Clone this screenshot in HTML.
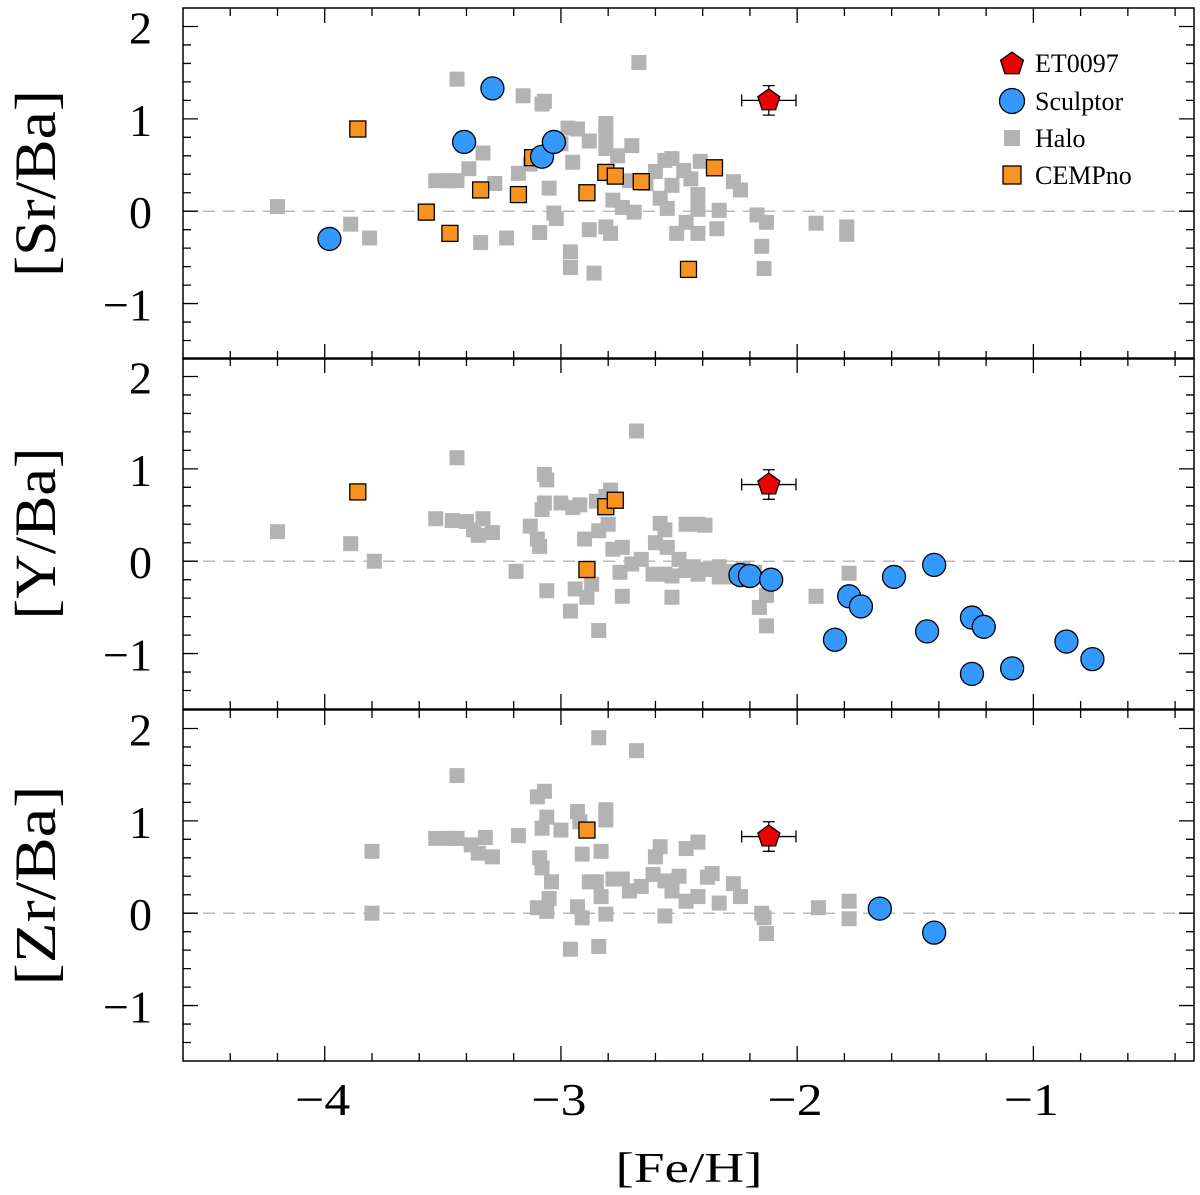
<!DOCTYPE html>
<html><head><meta charset="utf-8">
<style>
html,body{margin:0;padding:0;background:#fff;}
svg text{font-family:"Liberation Serif",serif;fill:#000;}
</style></head>
<body>
<svg id="chart" width="1200" height="1190" xmlns="http://www.w3.org/2000/svg"></svg>
<script>
// ---- data ----
const xTicks = [-4, -3, -2, -1];
const xTickLabels = ["\u22124", "\u22123", "\u22122", "\u22121"];
const yTicks = [2, 1, 0, -1];
const yTickLabels = ["2", "1", "0", "\u22121"];
const panelTitles = ["[Sr/Ba]", "[Y/Ba]", "[Zr/Ba]"];

const haloSrX = [-4.20,-3.89,-3.81,-3.44,-3.53,-3.48,-3.44,-3.39,-3.33,-3.34,-3.28,-3.23,-3.16,-3.08,-3.07,-3.13,-3.18,-3.09,-3.03,-3.02,-3.05,-2.97,-2.93,-3.00,-2.95,-2.88,-2.96,-2.96,-2.88,-2.86,-2.81,-2.81,-2.81,-2.76,-2.70,-2.78,-2.74,-2.81,-2.79,-2.69,-2.67,-2.71,-2.64,-2.58,-2.60,-2.56,-2.53,-2.55,-2.48,-2.45,-2.51,-2.47,-2.42,-2.42,-2.42,-2.41,-2.33,-2.34,-2.27,-2.24,-2.17,-2.13,-2.15,-2.14,-1.92,-1.79,-1.79,-2.53];
const haloSrY = [0.05,-0.14,-0.29,1.43,0.33,0.33,0.33,0.46,0.63,-0.34,0.30,-0.29,1.25,1.16,1.19,0.51,0.41,-0.23,-0.02,-0.08,0.25,0.90,0.89,0.73,0.53,0.76,-0.44,-0.61,-0.20,-0.67,0.95,0.84,0.68,0.60,0.71,0.12,0.04,-0.17,-0.24,-0.01,1.61,0.33,0.30,0.14,0.43,0.55,0.57,0.03,0.44,0.35,-0.24,-0.12,0.18,0.02,-0.24,0.54,0.01,-0.19,0.32,0.23,-0.04,-0.12,-0.38,-0.62,-0.13,-0.17,-0.25,0.28];
const cempSrX = [-3.86,-3.57,-3.47,-3.34,-3.18,-3.12,-2.89,-2.81,-2.77,-2.66,-2.46,-2.35];
const cempSrY = [0.89,-0.01,-0.24,0.23,0.18,0.58,0.20,0.42,0.38,0.32,-0.63,0.47];
const sclSrX = [-3.98,-3.29,-3.41,-3.08,-3.03];
const sclSrY = [-0.30,1.33,0.75,0.59,0.75];
const etSr = [-2.12, 1.20];

const haloYX = [-4.20,-3.89,-3.79,-3.44,-3.53,-3.46,-3.40,-3.37,-3.35,-3.33,-3.29,-3.19,-3.13,-3.09,-3.10,-3.07,-3.06,-3.06,-3.08,-3.07,-3.00,-2.95,-2.92,-2.96,-2.94,-2.90,-2.89,-2.87,-2.84,-2.80,-2.84,-2.81,-2.79,-2.85,-2.78,-2.74,-2.74,-2.75,-2.70,-2.68,-2.66,-2.61,-2.60,-2.58,-2.56,-2.55,-2.56,-2.53,-2.53,-2.50,-2.47,-2.44,-2.42,-2.39,-2.47,-2.42,-2.39,-2.33,-2.33,-2.30,-2.27,-2.23,-2.18,-2.16,-2.13,-2.13,-1.92,-1.78,-1.78];
const haloYY = [0.32,0.19,0.00,1.12,0.46,0.44,0.43,0.34,0.28,0.46,0.31,-0.11,0.38,0.16,0.24,0.94,0.88,-0.32,0.56,0.63,0.63,0.58,0.61,-0.54,-0.30,0.24,-0.39,-0.25,0.33,0.40,-0.75,0.70,0.77,0.65,0.13,0.15,-0.38,-0.12,-0.03,1.41,0.02,-0.14,0.20,0.41,0.34,0.15,-0.14,-0.16,-0.39,0.02,-0.10,-0.06,-0.14,-0.09,0.40,0.40,0.39,-0.17,-0.06,-0.17,-0.11,-0.08,-0.12,-0.50,-0.70,-0.37,-0.38,-0.13,-0.38];
const cempYX = [-3.86,-2.89,-2.81,-2.77];
const cempYY = [0.75,-0.09,0.59,0.66];
const sclYX = [-2.24,-2.20,-2.11,-1.84,-1.78,-1.73,-1.59,-1.45,-1.42,-1.26,-1.21,-1.26,-1.09,-0.86,-0.75];
const sclYY = [-0.15,-0.16,-0.20,-0.85,-0.38,-0.49,-0.17,-0.76,-0.04,-0.61,-0.71,-1.22,-1.16,-0.87,-1.06];
const etY = [-2.12, 0.83];

const haloZrX = [-3.80,-3.80,-3.44,-3.53,-3.47,-3.44,-3.38,-3.35,-3.32,-3.29,-3.18,-3.10,-3.09,-3.08,-3.10,-3.07,-3.08,-3.06,-3.04,-3.05,-3.00,-2.96,-2.93,-2.93,-2.92,-2.91,-2.91,-2.88,-2.85,-2.84,-2.84,-2.81,-2.81,-2.83,-2.83,-2.81,-2.78,-2.74,-2.68,-2.71,-2.66,-2.61,-2.60,-2.58,-2.56,-2.56,-2.53,-2.50,-2.47,-2.42,-2.47,-2.42,-2.38,-2.36,-2.33,-2.27,-2.24,-2.15,-2.14,-2.13,-1.91,-1.78,-1.78,-3.06];
const haloZrY = [0.67,0.00,1.49,0.81,0.81,0.81,0.74,0.65,0.82,0.61,0.84,0.06,0.60,0.49,1.26,1.32,0.92,1.04,0.34,0.16,0.90,-0.39,0.07,1.10,0.99,0.64,-0.05,0.34,0.34,-0.36,1.90,1.12,1.01,0.67,0.18,-0.01,0.37,0.37,1.76,0.24,0.29,0.42,0.61,0.72,0.35,-0.03,0.24,0.40,0.13,0.18,0.70,0.77,0.39,0.43,0.11,0.32,0.18,0.00,-0.05,-0.22,0.06,0.13,-0.06,0.02];
const cempZrX = [-2.89];
const cempZrY = [0.90];
const sclZrX = [-1.65,-1.42];
const sclZrY = [0.05,-0.21];
const etZr = [-2.12, 0.83];
const etErrX = 0.115;
const etErrY = 0.16;

// ---- layout ----
const NS = "http://www.w3.org/2000/svg";
const svg = document.getElementById("chart");
const L = 183, R = 1194;
const panelTops = [8, 358, 710];
const PH = 351;
const xMin = -4.6, xMax = -0.32, yMin = -1.6, yMax = 2.2;
function sx(v){ return L + (v - xMin) / (xMax - xMin) * (R - L); }
function sy(p, v){ return panelTops[p] + (yMax - v) / (yMax - yMin) * PH; }
function el(tag, attrs, parent){
  const e = document.createElementNS(NS, tag);
  for (const k in attrs) e.setAttribute(k, attrs[k]);
  (parent || svg).appendChild(e);
  return e;
}
function pentPts(cx, cy, r){
  const pts = [];
  for (let i = 0; i < 5; i++){
    const a = -Math.PI/2 + i * 2*Math.PI/5;
    pts.push((cx + r*Math.cos(a)).toFixed(1) + "," + (cy + r*Math.sin(a)).toFixed(1));
  }
  return pts.join(" ");
}

const panelData = [
  {hx: haloSrX, hy: haloSrY, cx: cempSrX, cy: cempSrY, sx_: sclSrX, sy_: sclSrY, et: etSr, name: "sr", tl: 187},
  {hx: haloYX, hy: haloYY, cx: cempYX, cy: cempYY, sx_: sclYX, sy_: sclYY, et: etY, name: "y", tl: 172},
  {hx: haloZrX, hy: haloZrY, cx: cempZrX, cy: cempZrY, sx_: sclZrX, sy_: sclZrY, et: etZr, name: "zr", tl: 200}
];

for (let p = 0; p < 3; p++){
  const d = panelData[p];
  const g = el("g", {});
  
  
  const top = panelTops[p], bot = top + PH;
  const z = el("line", {x1: L, x2: R, y1: sy(p,0), y2: sy(p,0), stroke: "#bbb", "stroke-width": 1.5, "stroke-dasharray": "12,8"}, g);
  
  
  for (let i = 0; i < d.hx.length; i++){
    const s = 15;
    const r = el("rect", {x: sx(d.hx[i]) - s/2, y: sy(p, d.hy[i]) - s/2, width: s, height: s, fill: "#b3b3b3"}, g);
    
    
  }
  for (let i = 0; i < d.cx.length; i++){
    const s = 16;
    const r = el("rect", {x: sx(d.cx[i]) - s/2, y: sy(p, d.cy[i]) - s/2, width: s, height: s, fill: "#f7931e", stroke: "#000", "stroke-width": 1.3}, g);
    
    
  }
  for (let i = 0; i < d.sx_.length; i++){
    const c = el("circle", {cx: sx(d.sx_[i]), cy: sy(p, d.sy_[i]), r: 11.5, fill: "#3399ff", stroke: "#000", "stroke-width": 1.3}, g);
    
    
  }
  const ex = sx(d.et[0]), ey = sy(p, d.et[1]);
  const x1 = sx(d.et[0] - etErrX), x2 = sx(d.et[0] + etErrX);
  const y1 = sy(p, d.et[1] + etErrY), y2 = sy(p, d.et[1] - etErrY);
  const eb = el("path", {d: `M${x1},${ey}H${x2}M${x1},${ey-6}V${ey+6}M${x2},${ey-6}V${ey+6}M${ex},${y1}V${y2}M${ex-6},${y1}H${ex+6}M${ex-6},${y2}H${ex+6}`, stroke: "#000", "stroke-width": 1.3, fill: "none"}, g);
  
  
  const pg = el("polygon", {points: pentPts(ex, ey, 11.5), fill: "#ee0000", stroke: "#000", "stroke-width": 1.3}, g);
  
  

  const fr = el("rect", {x: L, y: top, width: R - L, height: PH, fill: "none", stroke: "#000", "stroke-width": 1.5}, g);
  
  
  let tp = "";
  for (let v = -4.6; v <= -0.3; v += 0.2){
    const vv = Math.round(v*10)/10;
    const X = sx(vv);
    if (X <= L + 1 || X >= R - 1) continue;
    const major = Math.abs(vv - Math.round(vv)) < 1e-6;
    const len = major ? 15 : 8;
    tp += `M${X},${top}v${len}M${X},${bot}v${-len}`;
  }
  for (let v = -1.6; v <= 2.2; v += 0.2){
    const vv = Math.round(v*10)/10;
    const Y = sy(p, vv);
    if (Y <= top + 1 || Y >= bot - 1) continue;
    const major = Math.abs(vv - Math.round(vv)) < 1e-6;
    const len = major ? 15 : 8;
    tp += `M${L},${Y}h${len}M${R},${Y}h${-len}`;
  }
  const tk = el("path", {d: tp, stroke: "#000", "stroke-width": 1.3, fill: "none"}, g);
  
  
  for (let i = 0; i < yTicks.length; i++){
    const t = el("text", {x: 152, y: sy(p, yTicks[i]) + 17, "font-size": 46, "text-anchor": "end"}, g);
    t.textContent = yTickLabels[i];
    
    
  }
  const cyT = top + PH/2;
  const yt = el("text", {x: 55, y: cyT, "font-size": 58, "text-anchor": "middle", transform: `rotate(-90 55 ${cyT})`, textLength: d.tl, lengthAdjust: "spacingAndGlyphs"}, g);
  yt.textContent = panelTitles[p];
  
  
}

for (let i = 0; i < xTicks.length; i++){
  const t = el("text", {x: sx(xTicks[i]) - 2, y: 1115, "font-size": 46, "text-anchor": "middle", textLength: 55, lengthAdjust: "spacingAndGlyphs"});
  t.textContent = xTickLabels[i];
  
  
}
const xt = el("text", {x: 689, y: 1182, "font-size": 42, "text-anchor": "middle", textLength: 147, lengthAdjust: "spacingAndGlyphs"});
xt.textContent = "[Fe/H]";



const lg = el("g", {});


const lx = 1012, tx = 1035;
const legItems = [["ET0097", 63], ["Sculptor", 101], ["Halo", 138], ["CEMPno", 175]];
const m0 = el("polygon", {points: pentPts(lx, 64, 12), fill: "#ee0000", stroke: "#000", "stroke-width": 1.3}, lg);


const m1 = el("circle", {cx: lx, cy: 101, r: 12.5, fill: "#3399ff", stroke: "#000", "stroke-width": 1.3}, lg);


const m2 = el("rect", {x: lx - 8, y: 130, width: 16, height: 16, fill: "#b3b3b3"}, lg);


const m3 = el("rect", {x: lx - 9, y: 166, width: 18, height: 18, fill: "#f7931e", stroke: "#000", "stroke-width": 1.3}, lg);


for (let i = 0; i < legItems.length; i++){
  const t = el("text", {x: tx, y: legItems[i][1] + 9, "font-size": 26}, lg);
  t.textContent = legItems[i][0];
  
  
}
</script>
</body></html>
